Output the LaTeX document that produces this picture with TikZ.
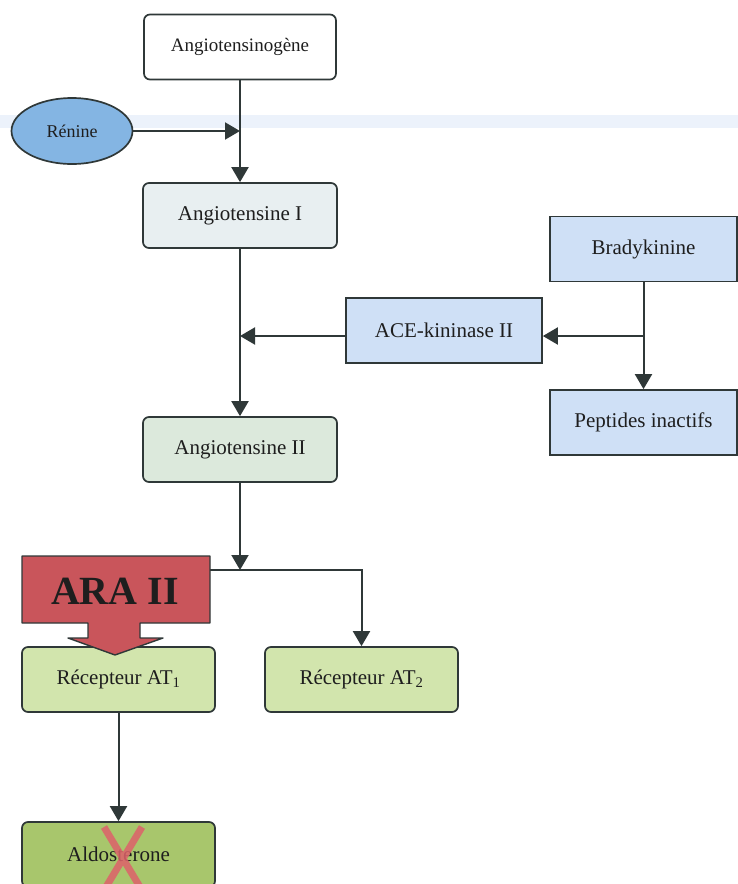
\documentclass[tikz,border=0pt]{standalone}
\usepackage{fontspec}
\setmainfont{Liberation Serif}
\usetikzlibrary{arrows.meta,calc,shapes.geometric}
\definecolor{LineClr}{RGB}{47,56,56}
\definecolor{TextClr}{RGB}{30,30,30}
\definecolor{StreakClr}{RGB}{236,242,251}
\definecolor{RenineClr}{RGB}{132,181,227}
\definecolor{AngOneClr}{RGB}{232,239,241}
\definecolor{AngTwoClr}{RGB}{220,233,220}
\definecolor{KininClr}{RGB}{207,224,246}
\definecolor{RecepClr}{RGB}{210,229,173}
\definecolor{AldoClr}{RGB}{168,198,108}
\definecolor{AraClr}{RGB}{201,85,91}
\definecolor{CrossClr}{RGB}{222,98,106}

\begin{document}
\begin{tikzpicture}[x=1pt,y=-1pt,
  box/.style={draw=LineClr,line width=1.7pt,minimum width=194pt,minimum height=65pt,
    inner sep=0pt,text=TextClr,font=\fontsize{21}{25}\selectfont},
  roundbox/.style={box,rounded corners=6pt},
  link/.style={draw=LineClr,line width=2pt},
  tip/.style={link,-{Triangle[length=15pt,width=17pt]}}]
\useasboundingbox (0,0) rectangle (738,884);

\fill[StreakClr] (0,115) rectangle (738,128);

\node[roundbox,fill=white,minimum width=192pt,font=\fontsize{19}{23}\selectfont] (gene) at (240,47) {Angiotensinog\`ene};
\node[ellipse,draw=LineClr,line width=1.7pt,fill=RenineClr,minimum width=121pt,minimum height=66pt,
  inner sep=0pt,text=TextClr,font=\fontsize{18}{22}\selectfont] (renine) at (72,131) {R\'enine};
\node[roundbox,fill=AngOneClr] (ang1) at (240,215.5) {Angiotensine I};
\node[roundbox,fill=AngTwoClr] (ang2) at (240,449.5) {Angiotensine II};

\node[box,fill=KininClr,minimum width=187pt] (brady) at (643.5,249) {Bradykinine};
\node[box,fill=KininClr,minimum width=196pt] (ace) at (444,330.5) {ACE-kininase II};
\node[box,fill=KininClr,minimum width=187pt] (pept) at (643.5,422.5) {Peptides inactifs};

\node[roundbox,fill=RecepClr,minimum width=193pt] (at1) at (118.5,679.5) {R\'ecepteur AT\textsubscript{1}};
\node[roundbox,fill=RecepClr,minimum width=193pt] (at2) at (361.5,679.5) {R\'ecepteur AT\textsubscript{2}};
\node[roundbox,fill=AldoClr,minimum width=193pt] (aldo) at (118.5,854.5) {Aldosterone};

\coordinate (renin) at (ang1.north |- renine.east);
\coordinate (kin) at (brady.south |- 0,336);
\coordinate (meet) at (ang1.south |- kin);
\coordinate (split) at (ang2.south |- 0,570);

\draw[tip] (gene.south) -- (ang1.north);
\draw[tip] (renine.east) -- (renin);
\draw[tip] (ang1.south) -- (ang2.north);
\draw[tip] (kin) -- (ace.east |- kin);
\draw[tip] (ace.west |- kin) -- (meet);
\draw[tip] (brady.south) -- (pept.north);
\draw[tip] (ang2.south) -- (split);
\draw[tip] (at1.north |- split) -| (at2.north);
\draw[tip] (at1.south) -- (aldo.north);

\draw[draw=LineClr,line width=1.4pt,fill=AraClr,line join=round]
  (22,556) -- (210,556) -- (210,623) -- (140,623) -- (140,638) -- (163,638) -- (115,655)
  -- (68,638) -- (88,638) -- (88,623) -- (22,623) -- cycle;
\node[text=TextClr,font=\fontsize{40}{44}\selectfont\bfseries] (ara) at (115,591) {ARA II};

\draw[CrossClr,line width=7pt,opacity=.85] (104,827) -- (143,892) (142,827) -- (103,892);

\end{tikzpicture}
\end{document}
